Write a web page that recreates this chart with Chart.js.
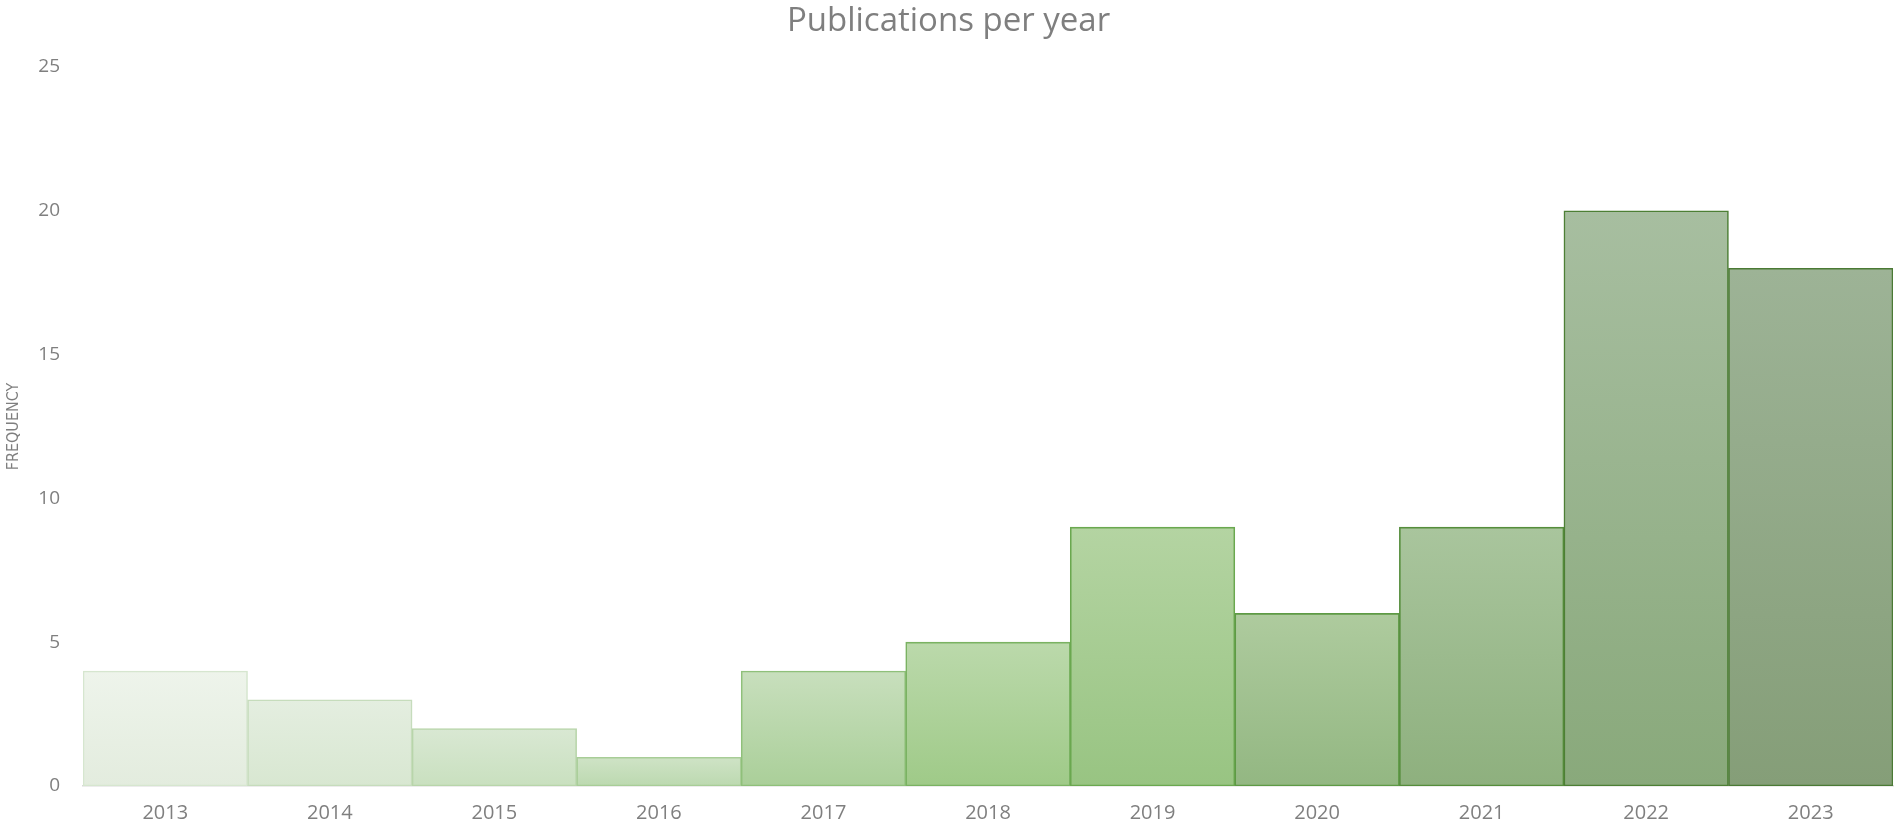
<!DOCTYPE html>
<html>
<head>
<meta charset="utf-8">
<script src="https://cdn.jsdelivr.net/npm/chart.js@4/dist/chart.umd.min.js"></script>
<style>
  html, body { margin: 0; padding: 0; background: #ffffff; }
  #wrap { width: 1902px; height: 827px; position: relative; }
</style>
</head>
<body>
<div id="wrap"><canvas id="c" width="1902" height="827"></canvas></div>
<script>
const years = ['2013','2014','2015','2016','2017','2018','2019','2020','2021','2022','2023'];
const frequency = [4, 3, 2, 1, 4, 5, 9, 6, 9, 20, 18];
const yTicks = [0, 5, 10, 15, 20, 25];

const topColors    = ['#eef4eb','#e4eee0','#d9e8d3','#cfe3c6','#c8dfbd','#bbd9ab','#b4d4a2','#aecb9e','#a9c59d','#a7bea0','#9db396'];
const bottomColors = ['#e3ecde','#d8e7d1','#c9e0bf','#bcd9b0','#aacf99','#9fca88','#98c482','#93b782','#8eb07e','#89a97b','#859e78'];
const borderColors = ['#d6e6cf','#c6dcbc','#b8d5aa','#a8cd97','#8fc07a','#7ab262','#6aa84f','#5e9a45','#558d3b','#4d7f35','#4b7a35'];

Chart.defaults.font.family = "'Open Sans', 'Noto Sans', sans-serif";
Chart.defaults.color = '#7f7f7f';

new Chart(document.getElementById('c'), {
  type: 'bar',
  data: {
    labels: years,
    datasets: [{
      label: 'Frequency',
      data: frequency,
      barPercentage: 1,
      categoryPercentage: 1,
      borderWidth: 1.6,
      borderSkipped: false,
      borderColor: borderColors,
      backgroundColor: (ctx) => {
        const chart = ctx.chart;
        const area = chart.chartArea;
        const i = ctx.dataIndex;
        if (!area || ctx.raw === undefined) return topColors[i];
        const yTop = chart.scales.y.getPixelForValue(ctx.raw);
        const g = chart.ctx.createLinearGradient(0, yTop, 0, area.bottom);
        g.addColorStop(0, topColors[i]);
        g.addColorStop(1, bottomColors[i]);
        return g;
      }
    }]
  },
  options: {
    responsive: false,
    animation: false,
    layout: { padding: { left: 4, right: 9, top: 0, bottom: 0 } },
    plugins: {
      legend: { display: false },
      tooltip: { enabled: false },
      title: {
        display: true,
        text: 'Publications per year',
        color: '#7f7f7f',
        font: { size: 33, weight: 'normal', lineHeight: 1.0 },
        padding: { top: 5, bottom: 29 }
      }
    },
    scales: {
      x: {
        grid: { display: false, drawTicks: false },
        border: { display: true, color: '#d9d9d9', width: 1.5 },
        ticks: { color: '#7f7f7f', font: { size: 20 }, padding: 15 },
        afterFit: (axis) => { axis.height = 41; }
      },
      y: {
        min: 0,
        max: 25,
        afterBuildTicks: (axis) => { axis.ticks = yTicks.map(v => ({ value: v })); },
        grid: { display: false, drawTicks: false },
        border: { display: false },
        ticks: { color: '#7f7f7f', font: { size: 19 }, padding: 23 },
        afterFit: (axis) => { axis.width = 79; },
        title: {
          display: true,
          text: 'FREQUENCY',
          color: '#7f7f7f',
          font: { family: "'Liberation Sans Narrow', 'DejaVu Sans Condensed', sans-serif", size: 16 },
          padding: { top: 0, bottom: 0 }
        }
      }
    }
  }
});
</script>
</body>
</html>
